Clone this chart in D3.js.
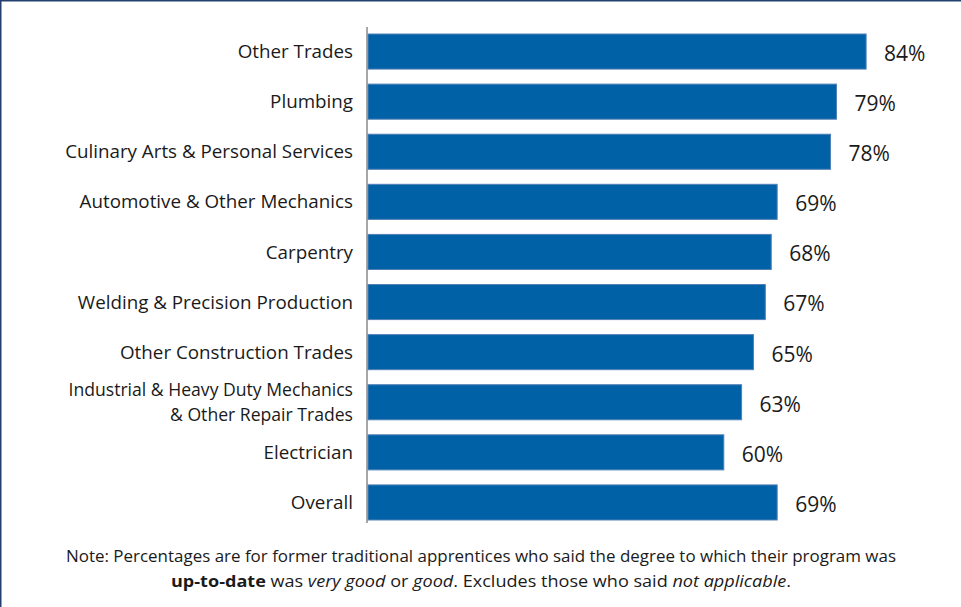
<!DOCTYPE html>
<html>
<head>
<meta charset="utf-8">
<script src="https://cdn.jsdelivr.net/npm/d3@7"></script>
<style>
  html, body { margin: 0; padding: 0; background: #fff; }
  svg { display: block; }
</style>
</head>
<body>
<svg id="chart" width="961" height="607"></svg>
<script>
// Categories (top to bottom); multi-line labels split on "\n"
const categories = [
  "Other Trades",
  "Plumbing",
  "Culinary Arts & Personal Services",
  "Automotive & Other Mechanics",
  "Carpentry",
  "Welding & Precision Production",
  "Other Construction Trades",
  "Industrial & Heavy Duty Mechanics\n& Other Repair Trades",
  "Electrician",
  "Overall"
];
// Share rating the program "very good" or "good" (percent)
const values = [84, 79, 78, 69, 68, 67, 65, 63, 60, 69];

const W = 961, H = 607;
const svg = d3.select("#chart");
const font = "'Open Sans', 'Noto Sans', sans-serif";

// frame: top and left rules
svg.append("line").attr("x1", 0).attr("y1", 0.5).attr("x2", W).attr("y2", 0.5)
  .attr("stroke", "#23406e").attr("stroke-width", 2);
svg.append("line").attr("x1", 0.5).attr("y1", 0).attr("x2", 0.5).attr("y2", H)
  .attr("stroke", "#23406e").attr("stroke-width", 2);

const x0 = 368;
const x = d3.scaleLinear().domain([0, 100]).range([x0, x0 + 593]);
const y = d3.scaleBand().domain(categories).range([26.5, 527.5])
  .paddingInner(0.3).paddingOuter(0.15);

// bars
svg.append("g").selectAll("rect").data(categories).join("rect")
  .attr("x", x(0))
  .attr("y", d => y(d))
  .attr("width", (d, i) => x(values[i]) - x(0))
  .attr("height", y.bandwidth())
  .attr("fill", "#0061a7")
  .attr("stroke", "#5281b6")
  .attr("stroke-width", 1);

// category axis rule
svg.append("line")
  .attr("x1", x0 - 1).attr("x2", x0 - 1)
  .attr("y1", 27).attr("y2", 523)
  .attr("stroke", "#8a8a8a").attr("stroke-width", 1.5);

// category labels; two-line labels get a slightly smaller size so lines clear
const cat = svg.append("g").selectAll("text").data(categories).join("text")
  .attr("text-anchor", "end")
  .attr("font-family", font)
  .attr("font-size", d => d.includes("\n") ? 17.6 : 18.8)
  .attr("fill", "#1a1a1a");
cat.each(function(d) {
  const lines = d.split("\n");
  const cy = y(d) + y.bandwidth() / 2;
  const lh = 24.5;
  const t = d3.select(this);
  lines.forEach((ln, k) => {
    t.append("tspan")
      .attr("x", 353)
      .attr("y", cy + (k - (lines.length - 1) / 2) * lh)
      .attr("dy", "0.35em")
      .text(ln);
  });
});

// value labels
svg.append("g").selectAll("text").data(categories).join("text")
  .attr("x", (d, i) => x(values[i]) + 18)
  .attr("y", d => y(d) + y.bandwidth() / 2 + 2)
  .attr("dy", "0.35em")
  .attr("font-family", font)
  .attr("font-size", 21)
  .attr("fill", "#1a1a1a")
  .text((d, i) => values[i] + "%");

// footnote
const note = svg.append("g").attr("font-family", font).attr("font-size", 15.5)
  .attr("fill", "#1a1a1a").attr("text-anchor", "middle");
note.append("text").attr("x", 481).attr("y", 562)
  .attr("textLength", 830).attr("lengthAdjust", "spacingAndGlyphs")
  .text("Note: Percentages are for former traditional apprentices who said the degree to which their program was");
const n2 = note.append("text").attr("x", 481).attr("y", 587)
  .attr("textLength", 620).attr("lengthAdjust", "spacingAndGlyphs");
n2.append("tspan").attr("font-weight", "bold").text("up-to-date");
n2.append("tspan").text(" was ");
n2.append("tspan").attr("font-style", "italic").text("very good");
n2.append("tspan").text(" or ");
n2.append("tspan").attr("font-style", "italic").text("good");
n2.append("tspan").text(". Excludes those who said ");
n2.append("tspan").attr("font-style", "italic").text("not applicable");
n2.append("tspan").text(".");
</script>
</body>
</html>
